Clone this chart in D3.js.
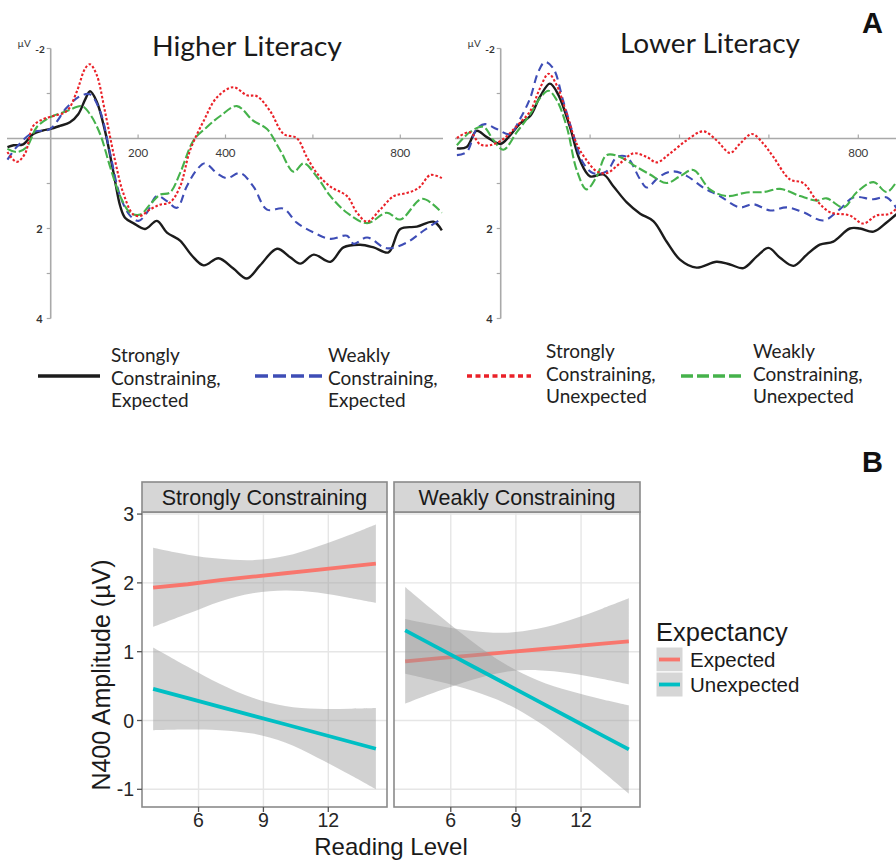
<!DOCTYPE html>
<html><head><meta charset="utf-8">
<script src="https://cdn.jsdelivr.net/npm/d3@7"></script>
<style>body{margin:0;background:#fff}svg{display:block}</style>
</head><body><svg id="c" width="896" height="860"></svg>
<script>
// ---------- Panel A data (time in ms, amplitude in µV; negative plotted up) ----------
const conditions = ["Strongly Constraining, Expected","Weakly Constraining, Expected","Strongly Constraining, Unexpected","Weakly Constraining, Unexpected"];
const literacyGroups = ["Higher Literacy","Lower Literacy"];
const erpYTicks = [-2,-1,0,1,2,3,4];
const erpYLabels = ["-2","2","4"];

const hiStrongExp = [[-99,0.19],[-85,0.15],[-63,0.13],[-40,-0.1],[-17,-0.18],[-2,-0.21],[21,-0.28],[44,-0.36],[63,-0.54],[79,-0.87],[90,-1.05],[105,-0.83],[124,-0.18],[144,0.77],[159,1.5],[170,1.76],[189,1.88],[216,2.01],[243,1.83],[266,2.09],[296,2.27],[323,2.6],[350,2.82],[384,2.66],[418,2.89],[449,3.11],[479,2.82],[518,2.45],[548,2.64],[571,2.78],[602,2.58],[640,2.74],[670,2.42],[708,2.36],[739,2.42],[773,2.53],[800,2.01],[838,1.96],[876,1.85],[895,2.04]];
const hiWeakExp = [[-99,0.47],[-78,0.19],[-40,-0.14],[-2,-0.21],[37,-0.69],[67,-0.94],[90,-0.98],[113,-0.61],[136,0.34],[159,1.28],[182,1.72],[201,1.83],[220,1.65],[243,1.28],[266,1.39],[289,1.54],[311,1.07],[334,0.7],[353,0.55],[380,0.77],[403,0.88],[434,0.77],[464,1.07],[495,1.58],[533,1.56],[563,1.87],[602,2.09],[640,2.23],[678,2.16],[693,2.34],[724,2.2],[769,2.44],[815,2.31],[853,2.05],[895,1.78]];
const hiStrongUnexp = [[-99,0.3],[-78,0.52],[-59,0.34],[-40,-0.28],[-17,-0.43],[6,-0.5],[37,-0.61],[60,-1.05],[79,-1.56],[90,-1.65],[105,-1.42],[124,-0.61],[147,0.48],[166,1.21],[189,1.69],[205,1.72],[227,1.58],[250,1.47],[273,1.42],[296,1.07],[319,0.26],[350,-0.39],[380,-0.91],[418,-1.14],[449,-0.96],[472,-0.94],[502,-0.61],[533,-0.1],[563,-0.01],[586,0.41],[609,0.77],[640,1.07],[678,1.28],[701,1.65],[724,1.85],[754,1.58],[785,1.28],[815,1.21],[842,1.1],[869,0.81],[895,0.88]];
const hiWeakUnexp = [[-99,0.23],[-78,0.3],[-55,0.19],[-32,-0.25],[-2,-0.47],[37,-0.61],[71,-0.72],[90,-0.54],[113,-0.1],[136,0.63],[159,1.28],[182,1.65],[205,1.69],[227,1.47],[250,1.25],[273,1.2],[296,0.77],[327,0.04],[357,-0.25],[388,-0.5],[426,-0.72],[464,-0.39],[495,-0.21],[525,0.26],[556,0.74],[579,0.55],[609,0.85],[640,1.28],[678,1.65],[724,1.88],[769,1.65],[800,1.8],[850,1.34],[895,1.65]];

const loStrongExp = [[-98,0.22],[-76,0.19],[-54,-0.17],[-31,-0.03],[-1,0.12],[21,-0.07],[43,-0.33],[66,-0.5],[88,-0.93],[110,-1.22],[129,-0.97],[155,-0.25],[177,0.48],[200,0.84],[230,0.8],[252,1.06],[282,1.42],[312,1.67],[342,1.84],[371,2.29],[401,2.69],[438,2.87],[483,2.74],[513,2.8],[543,2.88],[573,2.62],[599,2.43],[625,2.65],[655,2.83],[685,2.58],[714,2.36],[744,2.29],[781,2.0],[804,2.0],[834,2.07],[864,1.86],[895,1.6]];
const loWeakExp = [[-98,0.37],[-76,0.3],[-54,-0.21],[-35,-0.32],[-9,-0.21],[21,-0.1],[43,-0.43],[66,-0.9],[84,-1.48],[99,-1.7],[118,-1.55],[140,-0.83],[162,-0.1],[185,0.55],[207,0.77],[237,0.73],[260,0.41],[282,0.41],[312,0.91],[327,1.09],[356,0.84],[386,0.73],[416,0.83],[453,1.09],[490,1.28],[535,1.53],[565,1.46],[603,1.6],[640,1.53],[677,1.64],[722,1.82],[759,1.57],[789,1.31],[834,1.35],[864,1.31],[895,1.7]];
const loStrongUnexp = [[-98,-0.01],[-69,-0.14],[-46,0.13],[-24,0.15],[6,0.01],[36,-0.28],[66,-0.61],[88,-1.12],[107,-1.44],[125,-1.19],[148,-0.54],[170,0.12],[192,0.48],[215,0.73],[237,0.77],[267,0.55],[297,0.33],[327,0.41],[349,0.53],[379,0.33],[416,0.04],[453,-0.16],[483,0.04],[513,0.32],[535,0.12],[562,-0.1],[588,0.12],[610,0.41],[647,0.91],[677,0.99],[707,1.38],[737,1.64],[781,1.71],[811,1.89],[841,1.71],[871,1.67],[895,1.45]];
const loWeakUnexp = [[-98,0.15],[-69,-0.14],[-39,-0.26],[-16,0.04],[6,0.25],[36,-0.14],[66,-0.54],[88,-0.9],[107,-1.06],[125,-0.86],[148,-0.25],[170,0.7],[192,1.13],[215,0.84],[237,0.37],[267,0.41],[297,0.59],[334,0.8],[371,0.99],[401,0.84],[431,0.7],[468,1.13],[505,1.28],[550,1.2],[588,1.19],[625,1.12],[670,1.28],[707,1.38],[729,1.33],[767,1.53],[796,1.2],[834,0.97],[864,1.19],[895,0.8]];

// ---------- Panel B data ----------
const facets = ["Strongly Constraining","Weakly Constraining"];
const expectancy = ["Expected","Unexpected"];
const readingTicks = [6,9,12];
const ampTicks = [-1,0,1,2,3];
const readingX = [3.9,5.5,7,8.5,10,11.5,13,14.2];
const scExpFit = [1.93,1.98,2.04,2.09,2.14,2.19,2.24,2.28];
const scExpLo  = [1.36,1.55,1.73,1.85,1.89,1.86,1.78,1.71];
const scExpHi  = [2.51,2.41,2.35,2.33,2.39,2.53,2.70,2.85];
const scUnFit  = [0.46,0.325,0.198,0.071,-0.055,-0.182,-0.309,-0.41];
const scUnLo   = [-0.14,-0.13,-0.14,-0.19,-0.32,-0.54,-0.79,-1.0];
const scUnHi   = [1.06,0.78,0.53,0.33,0.21,0.17,0.17,0.18];
const wcExpFit = [0.86,0.905,0.947,0.99,1.032,1.074,1.116,1.15];
const wcExpLo  = [0.245,0.436,0.594,0.705,0.732,0.686,0.603,0.525];
const wcExpHi  = [1.475,1.374,1.30,1.275,1.332,1.462,1.629,1.775];
const wcUnFit  = [1.31,1.041,0.789,0.537,0.285,0.033,-0.219,-0.42];
const wcUnLo   = [0.68,0.563,0.432,0.252,-0.016,-0.361,-0.743,-1.06];
const wcUnHi   = [1.94,1.519,1.146,0.822,0.586,0.427,0.305,0.22];

// ---------- drawing ----------
const svg = d3.select("#c");
const fontA = "Lato, 'Open Sans', sans-serif";
const fontB = "'Liberation Sans', Arial, sans-serif";
const styles = [
  {color:"#1c1c1c", w:2.4, dash:null,    lw:3.6, ldash:null},
  {color:"#3e4db6", w:2.1, dash:"8,5",   lw:3.6, ldash:"13,5"},
  {color:"#ea2128", w:2.1, dash:"2.5,2", lw:3.6, ldash:"5,3.5"},
  {color:"#45b24b", w:2.1, dash:"9,3",   lw:3.6, ldash:"12,4"}
];

function drawERP(cfg){
  const g = svg.append("g");
  const x = d3.scaleLinear().domain([0,800]).range([cfg.x0, cfg.x800]);
  const y = d3.scaleLinear().domain([-2,4]).range([48.5,318.5]);
  g.append("line").attr("x1",cfg.zl0).attr("x2",cfg.zl1).attr("y1",y(0)).attr("y2",y(0))
    .attr("stroke","#a9a9a9").attr("stroke-width",1.6);
  cfg.xticks.forEach(t=>{
    g.append("line").attr("x1",x(t)).attr("x2",x(t)).attr("y1",y(0)).attr("y2",y(0)-4)
      .attr("stroke","#a9a9a9").attr("stroke-width",1.2);
  });
  cfg.xlabels.forEach(t=>{
    g.append("text").attr("x",x(t)).attr("y",y(0)+18).attr("text-anchor","middle")
      .attr("font-family",fontA).attr("font-size",11.5).attr("fill","#3a3a3a").text(t);
  });
  g.append("line").attr("x1",x(0)).attr("x2",x(0)).attr("y1",y(-2)).attr("y2",y(4))
    .attr("stroke","#a9a9a9").attr("stroke-width",1.6);
  erpYTicks.forEach(t=>{
    g.append("line").attr("x1",x(0)-4).attr("x2",x(0)).attr("y1",y(t)).attr("y2",y(t))
      .attr("stroke","#a9a9a9").attr("stroke-width",1.2);
  });
  erpYLabels.forEach(s=>{
    const v = +s;
    g.append("text").attr("x", v===-2 ? x(0)-6 : x(0)-8).attr("y",y(v)+4)
      .attr("text-anchor","end").attr("font-family",fontA).attr("font-weight","bold")
      .attr("font-size", v===-2?10:11).attr("fill","#333").text(s);
  });
  g.append("text").attr("x",x(0)-20).attr("y",y(-2)-2).attr("text-anchor","end")
    .attr("font-family",fontA).attr("font-size",10).attr("fill","#333").text("µV");
  g.append("text").attr("x",cfg.titleX).attr("y",cfg.titleY).attr("font-family",fontA)
    .attr("font-size",27).attr("fill","#1a1a1a")
    .attr("textLength",cfg.titleW).attr("lengthAdjust","spacingAndGlyphs").text(cfg.title);
  const line = d3.line().x(d=>x(d[0])).y(d=>y(d[1])).curve(d3.curveCatmullRom.alpha(0.5));
  const order = [0,1,3,2];
  order.forEach(i=>{
    const s = styles[i];
    g.append("path").attr("d",line(cfg.series[i])).attr("fill","none")
      .attr("stroke",s.color).attr("stroke-width",s.w)
      .attr("stroke-dasharray",s.dash).attr("stroke-linejoin","round");
  });
}

drawERP({x0:50.7, x800:400.3, zl0:7, zl1:443, xticks:[200,400,600,800], xlabels:[200,400,800],
  title:literacyGroups[0], titleX:152, titleY:56, titleW:190,
  series:[hiStrongExp,hiWeakExp,hiStrongUnexp,hiWeakUnexp]});
drawERP({x0:500.7, x800:858.3, zl0:455, zl1:896, xticks:[200,400,600,800], xlabels:[800],
  title:literacyGroups[1], titleX:620, titleY:53, titleW:180,
  series:[loStrongExp,loWeakExp,loStrongUnexp,loWeakUnexp]});

svg.append("text").attr("x",862).attr("y",33).attr("font-family",fontB).attr("font-weight","bold")
  .attr("font-size",29).attr("fill","#111").text("A");
svg.append("text").attr("x",862).attr("y",472).attr("font-family",fontB).attr("font-weight","bold")
  .attr("font-size",29).attr("fill","#111").text("B");

const legItems = [
  {lx0:38, lx1:100, ly:376, tx:111, ty:362, lines:["Strongly","Constraining,","Expected"]},
  {lx0:255, lx1:322, ly:376, tx:328, ty:362, lines:["Weakly","Constraining,","Expected"]},
  {lx0:467, lx1:531, ly:376, tx:546, ty:358, lines:["Strongly","Constraining,","Unexpected"]},
  {lx0:681, lx1:745, ly:376, tx:753, ty:358, lines:["Weakly","Constraining,","Unexpected"]}
];
legItems.forEach((it,i)=>{
  const s = styles[i];
  svg.append("line").attr("x1",it.lx0).attr("x2",it.lx1).attr("y1",it.ly).attr("y2",it.ly)
    .attr("stroke",s.color).attr("stroke-width",s.lw).attr("stroke-dasharray",s.ldash);
  it.lines.forEach((t,j)=>{
    svg.append("text").attr("x",it.tx).attr("y",it.ty+j*22.5).attr("font-family",fontA)
      .attr("font-size",19).attr("fill","#222").text(t);
  });
});

// ---------- Panel B ----------
const yB = d3.scaleLinear().domain([-1.257,3.03]).range([807,512]);
const panels = [
  {x0:142, x1:387, data:[[scExpFit,scExpLo,scExpHi],[scUnFit,scUnLo,scUnHi]]},
  {x0:394, x1:640, data:[[wcExpFit,wcExpLo,wcExpHi],[wcUnFit,wcUnLo,wcUnHi]]}
];
const expColors = ["#F8766D","#00BFC4"];
panels.forEach((p,pi)=>{
  const g = svg.append("g");
  const xB = d3.scaleLinear().domain([3.385,14.715]).range([p.x0,p.x1]);
  g.append("rect").attr("x",p.x0).attr("y",512).attr("width",p.x1-p.x0).attr("height",295).attr("fill","#fff");
  readingTicks.forEach(t=>g.append("line").attr("x1",xB(t)).attr("x2",xB(t)).attr("y1",512).attr("y2",807)
    .attr("stroke","#e6e6e6").attr("stroke-width",1.4));
  ampTicks.forEach(t=>g.append("line").attr("x1",p.x0).attr("x2",p.x1).attr("y1",yB(t)).attr("y2",yB(t))
    .attr("stroke","#e6e6e6").attr("stroke-width",1.4));
  const area = d3.area().x((d,i)=>xB(readingX[i])).y0(d=>yB(d[0])).y1(d=>yB(d[1]))
    .curve(d3.curveCatmullRom.alpha(0.5));
  const ln = d3.line().x((d,i)=>xB(readingX[i])).y(d=>yB(d)).curve(d3.curveLinear);
  p.data.forEach((ser,si)=>{
    const pts = ser[1].map((lo,i)=>[lo, ser[2][i]]);
    g.append("path").attr("d",area(pts)).attr("fill","#999").attr("fill-opacity",0.45);
    g.append("path").attr("d",ln(ser[0])).attr("fill","none").attr("stroke",expColors[si])
      .attr("stroke-width",3.8).attr("stroke-linecap","butt");
  });
  g.append("rect").attr("x",p.x0).attr("y",512).attr("width",p.x1-p.x0).attr("height",295)
    .attr("fill","none").attr("stroke","#8a8a8a").attr("stroke-width",1.6);
  g.append("rect").attr("x",p.x0).attr("y",482).attr("width",p.x1-p.x0).attr("height",30)
    .attr("fill","#d6d6d6").attr("stroke","#8a8a8a").attr("stroke-width",1.6);
  g.append("text").attr("x",(p.x0+p.x1)/2).attr("y",505).attr("text-anchor","middle")
    .attr("font-family",fontB).attr("font-size",21.5).attr("fill","#1a1a1a").text(facets[pi]);
  readingTicks.forEach(t=>{
    g.append("line").attr("x1",xB(t)).attr("x2",xB(t)).attr("y1",807).attr("y2",812)
      .attr("stroke","#555").attr("stroke-width",1.3);
    g.append("text").attr("x",xB(t)).attr("y",827).attr("text-anchor","middle")
      .attr("font-family",fontB).attr("font-size",19.5).attr("fill","#262626").text(t);
  });
});
ampTicks.forEach(t=>{
  svg.append("line").attr("x1",137).attr("x2",142).attr("y1",yB(t)).attr("y2",yB(t))
    .attr("stroke","#555").attr("stroke-width",1.3);
  svg.append("text").attr("x",134).attr("y",yB(t)+7).attr("text-anchor","end")
    .attr("font-family",fontB).attr("font-size",19.5).attr("fill","#262626").text(t);
});
svg.append("text").attr("transform","translate(110,675) rotate(-90)").attr("text-anchor","middle")
  .attr("font-family",fontB).attr("font-size",25).attr("fill","#1a1a1a").text("N400 Amplitude (µV)");
svg.append("text").attr("x",391).attr("y",855).attr("text-anchor","middle")
  .attr("font-family",fontB).attr("font-size",24).attr("fill","#1a1a1a").text("Reading Level");

svg.append("text").attr("x",656).attr("y",641).attr("font-family",fontB).attr("font-size",25.5)
  .attr("fill","#1a1a1a").text("Expectancy");
expectancy.forEach((e,i)=>{
  const ky = 647 + i*25;
  svg.append("rect").attr("x",656).attr("y",ky).attr("width",27).attr("height",25)
    .attr("fill","#d6d6d6").attr("stroke","#fff").attr("stroke-width",1);
  svg.append("line").attr("x1",659).attr("x2",680).attr("y1",ky+12.5).attr("y2",ky+12.5)
    .attr("stroke",expColors[i]).attr("stroke-width",3.8);
  svg.append("text").attr("x",690).attr("y",ky+20).attr("font-family",fontB).attr("font-size",20.5)
    .attr("fill","#1a1a1a").text(e);
});
</script></body></html>
